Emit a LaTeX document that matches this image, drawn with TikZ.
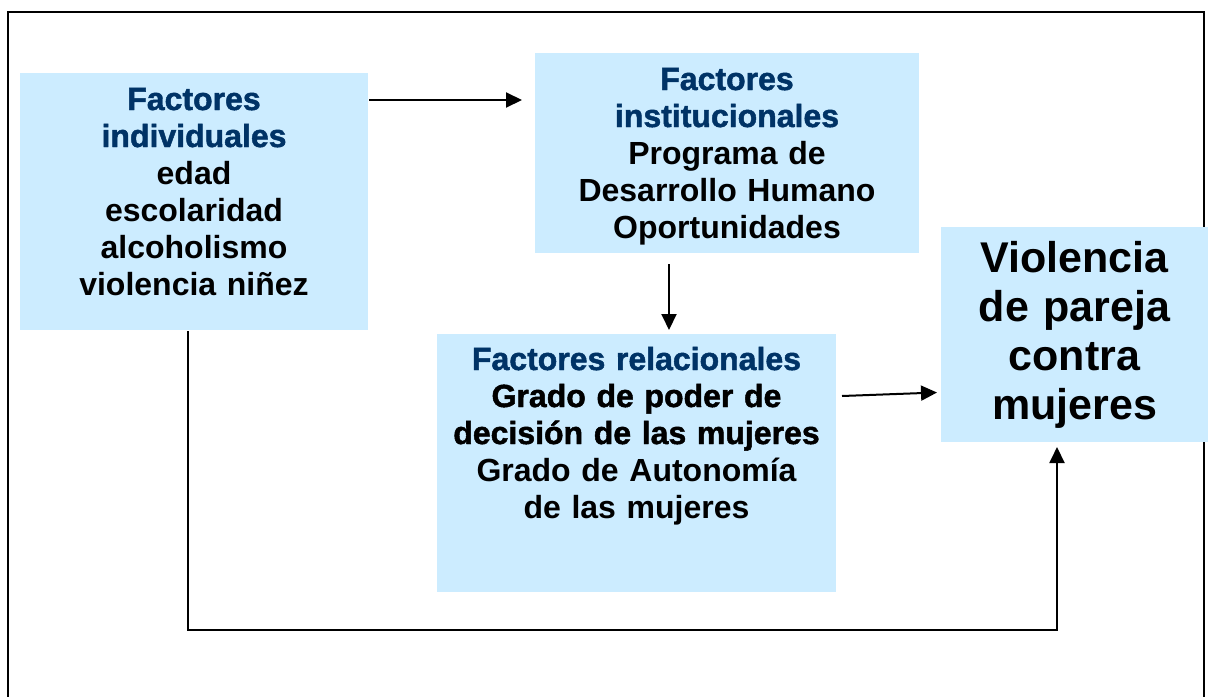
\documentclass[tikz,border=0pt]{standalone}
\usepackage{fontspec}
\setmainfont{Liberation Sans}
\newfontface\medfont{Liberation Sans Bold}
\newfontface\boldfont{Liberation Sans Bold}[FakeBold=1.5]
\usetikzlibrary{positioning, calc, arrows.meta}
\definecolor{boxblue}{RGB}{204,236,255}
\definecolor{titleblue}{RGB}{0,51,102}
\newcommand{\ttl}[1]{{\boldfont\color{titleblue}#1}}

\begin{document}
\begin{tikzpicture}[x=0.5pt, y=-0.5pt, line width=1pt, >={Triangle[length=8pt, width=7.5pt]}, box/.style={fill=boxblue, inner sep=0pt, align=center, anchor=north west, font=\medfont\fontsize{16pt}{18.5pt}\selectfont}]
        \useasboundingbox (0,0) rectangle (1208,696);
        % Frame
        \draw (8,712) -- (8,12) -- (1204,12) -- (1204,712);

        % Nodes
        \node[box, text width=174pt, text height=18.5pt, text depth=110pt] (indiv) at (19,72) {\ttl{Factores}\\ \ttl{individuales}\\ edad\\ escolaridad\\ alcoholismo\\ violencia niñez};
        \node[box, text width=192pt, text height=18.5pt, text depth=81.5pt] (inst) at (534,52) {\ttl{Factores}\\ \ttl{institucionales}\\ Programa de\\ Desarrollo Humano\\ Oportunidades};
        \node[box, text width=199.5pt, text height=18pt, text depth=111pt] (rel) at (436,333) {\ttl{Factores relacionales}\\ {\boldfont Grado de poder de}\\ {\boldfont decisión de las mujeres}\\ Grado de Autonomía\\ de las mujeres};
        \node[box, text width=133.5pt, text height=22.5pt, text depth=85pt, font=\medfont\fontsize{21.5pt}{24.5pt}\selectfont] (viol) at (940,226) {Violencia\\ de pareja\\ contra\\ mujeres};

        % Arrows
        \coordinate (a1) at ([yshift=-14pt]indiv.north east);
        \draw[->, shorten >=6pt] (a1) -- (a1 -| inst.west);
        \coordinate (a2) at ([xshift=-29pt]inst.south);
        \draw[->, shorten <=5pt, shorten >=1.5pt] (a2) -- (a2 |- rel.north);
        \draw[->] ([xshift=2.5pt, yshift=33.5pt]rel.east) -- ([xshift=-1.5pt, yshift=-29pt]viol.west);
        \draw[->, shorten >=2pt] ([xshift=-3pt]indiv.south) -- ++(0,299) -| ([xshift=-8.75pt]viol.south);

        \end{tikzpicture}
\end{document}
